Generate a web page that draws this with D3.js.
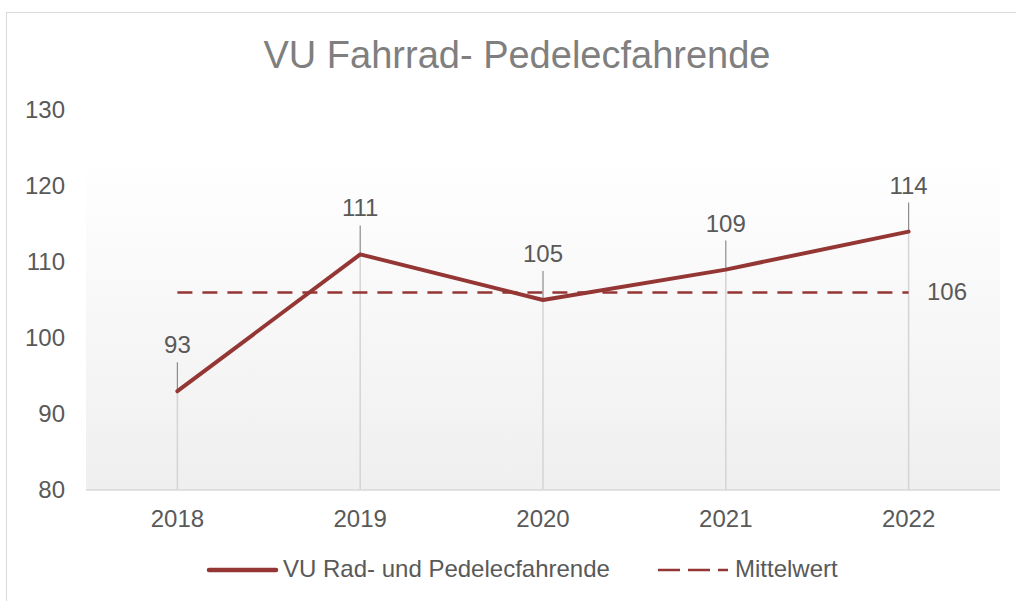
<!DOCTYPE html>
<html>
<head>
<meta charset="utf-8">
<script src="https://cdn.jsdelivr.net/npm/d3@7"></script>
<style>
  body { margin: 0; background: #fff; }
  text { font-family: "Liberation Sans", Arial, sans-serif; }
</style>
</head>
<body>
<svg id="chart" width="1016" height="601"></svg>
<script>
const years = ["2018", "2019", "2020", "2021", "2022"];
const accidents = [93, 111, 105, 109, 114];
const meanValue = 106;
const yTicks = [80, 90, 100, 110, 120, 130];
const seriesNames = ["VU Rad- und Pedelecfahrende", "Mittelwert"];

const svg = d3.select("#chart");
const lineColor = "#943634";
const textColor = "#595959";

const margin = { left: 86, right: 1000, top: 110, bottom: 490 };

// outer frame
svg.append("rect")
  .attr("x", 6.5).attr("y", 12.5)
  .attr("width", 1020).attr("height", 600)
  .attr("fill", "#fff").attr("stroke", "#d9d9d9");

const x = d3.scaleBand().domain(years).range([margin.left, margin.right]);
const y = d3.scaleLinear().domain([80, 130]).range([margin.bottom, margin.top]);
const cx = d => x(d) + x.bandwidth() / 2;

// plot background gradient
const grad = svg.append("defs").append("linearGradient")
  .attr("id", "bg").attr("x1", 0).attr("y1", 0).attr("x2", 0).attr("y2", 1);
grad.append("stop").attr("offset", "0%").attr("stop-color", "#ffffff");
grad.append("stop").attr("offset", "12%").attr("stop-color", "#ffffff");
grad.append("stop").attr("offset", "100%").attr("stop-color", "#efefef");

svg.append("rect")
  .attr("x", margin.left).attr("y", y(130))
  .attr("width", margin.right - margin.left).attr("height", y(80) - y(130))
  .attr("fill", "url(#bg)");

// title
svg.append("text")
  .attr("x", 517).attr("y", 68)
  .attr("text-anchor", "middle")
  .attr("font-size", 38)
  .attr("fill", "#7f7f7f")
  .text("VU Fahrrad- Pedelecfahrende");

// y axis labels
svg.append("g").selectAll("text").data(yTicks).join("text")
  .attr("x", 65).attr("y", d => y(d) + 8)
  .attr("text-anchor", "end")
  .attr("font-size", 24)
  .attr("fill", textColor)
  .text(d => d);

// drop lines
svg.append("g").selectAll("line").data(years).join("line")
  .attr("x1", d => cx(d)).attr("x2", d => cx(d))
  .attr("y1", (d, i) => y(accidents[i])).attr("y2", y(80))
  .attr("stroke", "#d4d4d4").attr("stroke-width", 1.5);

// x axis line
svg.append("line")
  .attr("x1", margin.left).attr("x2", margin.right)
  .attr("y1", y(80)).attr("y2", y(80))
  .attr("stroke", "#d9d9d9").attr("stroke-width", 1.5);

// x labels
svg.append("g").selectAll("text").data(years).join("text")
  .attr("x", d => cx(d)).attr("y", 527)
  .attr("text-anchor", "middle")
  .attr("font-size", 24)
  .attr("fill", textColor)
  .text(d => d);

// mean line
svg.append("line")
  .attr("x1", cx(years[0])).attr("x2", cx(years[years.length - 1]))
  .attr("y1", y(meanValue)).attr("y2", y(meanValue))
  .attr("stroke", lineColor).attr("stroke-width", 2.5)
  .attr("stroke-dasharray", "15 10");

svg.append("text")
  .attr("x", 947).attr("y", y(meanValue) + 8)
  .attr("text-anchor", "middle")
  .attr("font-size", 24)
  .attr("fill", textColor)
  .text(meanValue);

// leader lines
svg.append("g").selectAll("line").data(years).join("line")
  .attr("x1", d => cx(d)).attr("x2", d => cx(d))
  .attr("y1", (d, i) => y(accidents[i]) - 29).attr("y2", (d, i) => y(accidents[i]))
  .attr("stroke", "#8c8c8c").attr("stroke-width", 1.2);

// main line
const line = d3.line().x(d => cx(d[0])).y(d => y(d[1]));
svg.append("path")
  .datum(years.map((d, i) => [d, accidents[i]]))
  .attr("d", line)
  .attr("fill", "none")
  .attr("stroke", lineColor).attr("stroke-width", 4)
  .attr("stroke-linejoin", "round").attr("stroke-linecap", "round");

// data labels
svg.append("g").selectAll("text").data(years).join("text")
  .attr("x", d => cx(d)).attr("y", (d, i) => y(accidents[i]) - 38)
  .attr("text-anchor", "middle")
  .attr("font-size", 24)
  .attr("fill", textColor)
  .text((d, i) => accidents[i]);

// legend
const lg = svg.append("g");
lg.append("line")
  .attr("x1", 209).attr("x2", 276).attr("y1", 570).attr("y2", 570)
  .attr("stroke", lineColor).attr("stroke-width", 4.5).attr("stroke-linecap", "round");
lg.append("text")
  .attr("x", 283).attr("y", 577).attr("font-size", 24).attr("fill", textColor)
  .text(seriesNames[0]);
lg.append("line")
  .attr("x1", 658).attr("x2", 728).attr("y1", 570).attr("y2", 570)
  .attr("stroke", lineColor).attr("stroke-width", 2.5)
  .attr("stroke-dasharray", "22 8");
lg.append("text")
  .attr("x", 735).attr("y", 577).attr("font-size", 24).attr("fill", textColor)
  .text(seriesNames[1]);
</script>
</body>
</html>
